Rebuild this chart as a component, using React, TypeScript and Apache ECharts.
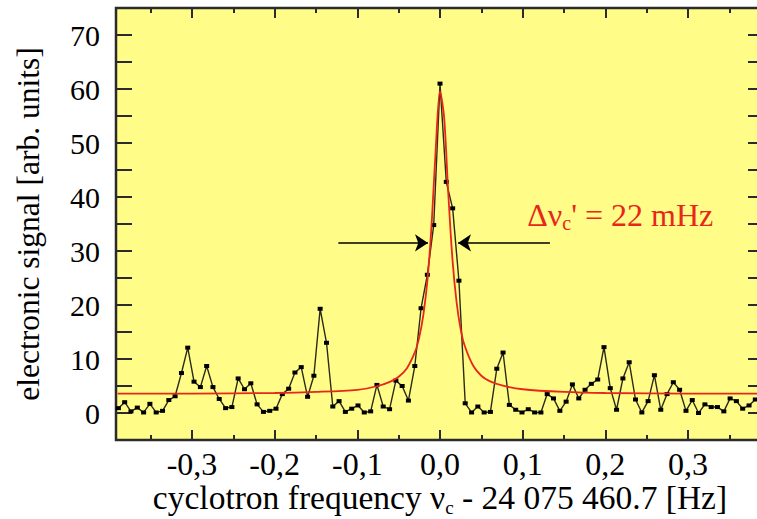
import React, { useEffect, useRef } from "react";
import * as echarts from "echarts";

// frequency offsets [Hz] of the measured points
const freq = [
  -0.3891, -0.3815, -0.3739, -0.3662, -0.3586, -0.351, -0.3434, -0.3357, -0.3281, -0.3205,
  -0.3128, -0.3052, -0.2976, -0.2899, -0.2823, -0.2747, -0.2671, -0.2594, -0.2518, -0.2442,
  -0.2365, -0.2289, -0.2213, -0.2136, -0.206, -0.1984, -0.1908, -0.1831, -0.1755, -0.1679,
  -0.1602, -0.1526, -0.145, -0.1373, -0.1297, -0.1221, -0.1145, -0.1068, -0.0992, -0.0916,
  -0.0839, -0.0763, -0.0687, -0.061, -0.0534, -0.0458, -0.0382, -0.0305, -0.0229, -0.0153,
  -0.0076, 0.0, 0.0076, 0.0153, 0.0229, 0.0305, 0.0382, 0.0458, 0.0534, 0.061,
  0.0687, 0.0763, 0.0839, 0.0916, 0.0992, 0.1068, 0.1145, 0.1221, 0.1297, 0.1373,
  0.145, 0.1526, 0.1602, 0.1679, 0.1755, 0.1831, 0.1908, 0.1984, 0.206, 0.2136,
  0.2213, 0.2289, 0.2365, 0.2442, 0.2518, 0.2594, 0.2671, 0.2747, 0.2823, 0.2899,
  0.2976, 0.3052, 0.3128, 0.3205, 0.3281, 0.3357, 0.3434, 0.351, 0.3586, 0.3662,
  0.3739, 0.3815,
];

// measured electronic signal [arb. units]
const signal = [
  0.9, 2.0, 0.3, 1.0, 0.1, 1.7, 0.1, 0.4, 2.4, 3.1,
  7.4, 12.1, 5.8, 4.8, 8.7, 4.8, 2.6, 0.9, 1.1, 6.4,
  4.4, 5.5, 1.6, 0.2, 0.4, 0.8, 3.5, 4.5, 7.5, 8.5,
  3.0, 6.9, 19.3, 13.0, 1.2, 2.2, 0.2, 0.8, 1.4, 0.1,
  0.3, 5.2, 1.2, 0.7, 6.0, 5.0, 2.3, 8.7, 19.4, 25.6,
  34.8, 61.0, 42.8, 37.9, 24.5, 1.8, 0.1, 1.2, 0.1, 0.2,
  8.2, 11.2, 1.5, 0.6, 0.1, 0.7, 0.1, 0.1, 3.5, 2.7,
  0.4, 2.1, 5.3, 2.7, 4.3, 5.4, 6.2, 12.2, 4.6, 0.6,
  6.4, 9.4, 2.5, 0.1, 2.2, 7.0, 0.6, 3.5, 5.7, 4.3,
  0.4, 2.4, 0.0, 1.6, 1.1, 1.1, 0.3, 2.7, 2.2, 0.8,
  1.4, 2.5,
];

// fitted curve
const fitFreq = [
  -0.39, -0.3, -0.2, -0.15, -0.1, -0.075, -0.06, -0.05, -0.04, -0.03,
  -0.025, -0.02, -0.015, -0.01, -0.005, 0.0, 0.005, 0.01, 0.015, 0.02,
  0.025, 0.03, 0.04, 0.05, 0.06, 0.075, 0.1, 0.15, 0.2, 0.3, 0.39,
];
const fitSignal = [
  3.6, 3.6, 3.7, 3.9, 4.3, 5.0, 5.8, 6.7, 8.3, 11.4,
  14.1, 18.3, 24.9, 35.3, 49.4, 59.6, 54.7, 40.7, 28.6, 20.6,
  15.5, 12.4, 8.8, 6.9, 5.9, 5.1, 4.4, 3.9, 3.7, 3.6, 3.6,
];

const xMajorTicks = [-0.3, -0.2, -0.1, 0.0, 0.1, 0.2, 0.3];
const xMinorTicks = [-0.35, -0.25, -0.15, -0.05, 0.05, 0.15, 0.25, 0.35];
const yLabelValues = [0, 10, 20, 30, 40, 50, 60, 70];
const yTickValues = [0, 5, 10, 15, 20, 25, 30, 35, 40, 45, 50, 55, 60, 65, 70];

const widthLabel = "Δν";
const widthValue = "' = 22 mHz";
const leftArrow = [[-0.123, 31.5], [-0.0145, 31.5]];
const rightArrow = [[0.133, 31.5], [0.0218, 31.5]];
const annotationAt = [0.105, 36.7];

const SERIF = "'Liberation Serif', 'DejaVu Serif', serif";
const FRAME = "#2b2b2b";
const RED = "#e8261a";

export default function App() {
  const ref = useRef<HTMLDivElement>(null);

  useEffect(() => {
    if (!ref.current) return;
    const chart = echarts.init(ref.current, null, { renderer: "svg" });

    const xBase = (position: string, ticks: number[], len: number) => ({
      type: "value",
      gridIndex: 0,
      position,
      min: -0.392,
      max: 0.392,
      axisLine: { show: false, onZero: false },
      splitLine: { show: false },
      axisLabel: { show: false },
      axisTick: {
        show: true,
        inside: true,
        length: len,
        customValues: ticks,
        lineStyle: { color: FRAME, width: 2 },
      },
    });

    const yBase = (position: string) => ({
      type: "value",
      position,
      min: -5,
      max: 75,
      interval: 5,
      axisLine: { show: false, onZero: false },
      splitLine: { show: false },
      axisLabel: { show: false },
      axisTick: {
        show: true,
        inside: true,
        length: 16,
        customValues: yTickValues,
        lineStyle: { color: FRAME, width: 2 },
      },
    });

    const xMain: any = xBase("bottom", xMajorTicks, 10);
    xMain.axisLabel = {
      show: true,
      customValues: xMajorTicks,
      margin: 8,
      fontFamily: SERIF,
      fontSize: 32,
      lineHeight: 32,
      color: "#000",
      formatter: (v: number) => v.toFixed(1).replace(".", ","),
    };
    xMain.name = "{a|cyclotron frequency ν}{b|c}{a| - 24 075 460.7 [Hz]}";
    xMain.nameLocation = "middle";
    xMain.nameGap = 37;
    xMain.nameMoveOverlap = false;
    xMain.nameTextStyle = {
      verticalAlign: "top",
      rich: {
        a: { fontFamily: SERIF, fontSize: 33.5, color: "#000", lineHeight: 40 },
        b: { fontFamily: SERIF, fontSize: 19, color: "#000", lineHeight: 18, verticalAlign: "bottom" },
      },
    };

    const yMain: any = yBase("left");
    yMain.axisLabel = {
      show: true,
      customValues: yLabelValues,
      margin: 16,
      fontFamily: SERIF,
      fontSize: 30,
      color: "#000",
    };
    yMain.name = "electronic signal [arb. units]";
    yMain.nameLocation = "middle";
    yMain.nameGap = 72;
    yMain.nameRotate = 90;
    yMain.nameMoveOverlap = false;
    yMain.nameTextStyle = { fontFamily: SERIF, fontSize: 31.5, color: "#000" };

    const option: any = {
      animation: false,
      backgroundColor: "#ffffff",
      grid: {
        left: 116,
        top: 8,
        right: -7,
        bottom: 79,
        containLabel: false,
        outerBoundsMode: "none",
        show: true,
        backgroundColor: "#fffc88",
        borderColor: FRAME,
        borderWidth: 2.5,
      },
      xAxis: [
        xMain,
        xBase("bottom", xMinorTicks, 5),
        xBase("top", xMajorTicks, 10),
        xBase("top", xMinorTicks, 5),
      ],
      yAxis: [yMain, yBase("right")],
      series: [
        {
          type: "line",
          xAxisIndex: 0,
          yAxisIndex: 0,
          data: freq.map((f, i) => [f, signal[i]]),
          symbol: "rect",
          symbolSize: [5, 4],
          showSymbol: true,
          itemStyle: { color: "#000" },
          lineStyle: { color: "#2a2a14", width: 1.4 },
          silent: true,
          z: 3,
        },
        {
          type: "line",
          xAxisIndex: 0,
          yAxisIndex: 0,
          data: fitFreq.map((f, i) => [f, fitSignal[i]]),
          smooth: 0.3,
          showSymbol: false,
          symbol: "none",
          lineStyle: { color: RED, width: 1.8 },
          silent: true,
          z: 4,
          markLine: {
            silent: true,
            symbol: ["none", "arrow"],
            symbolSize: 13,
            label: { show: false },
            lineStyle: { type: "solid", color: "#000", width: 1.5 },
            data: [
              [{ coord: leftArrow[0] }, { coord: leftArrow[1] }],
              [{ coord: rightArrow[0] }, { coord: rightArrow[1] }],
            ],
          },
          markPoint: {
            silent: true,
            symbol: "circle",
            symbolSize: 1,
            itemStyle: { color: "rgba(0,0,0,0)" },
            data: [
              {
                coord: annotationAt,
                label: {
                  show: true,
                  position: "right",
                  distance: 0,
                  formatter: `{a|${widthLabel}}{b|c}{a|${widthValue}}`,
                  rich: {
                    a: { fontFamily: SERIF, fontSize: 32, color: RED, lineHeight: 36 },
                    b: { fontFamily: SERIF, fontSize: 20, color: RED, lineHeight: 18, verticalAlign: "bottom" },
                  },
                },
              },
            ],
          },
        },
      ],
    };

    chart.setOption(option);
    return () => chart.dispose();
  }, []);

  return (
    <div
      style={{ position: "fixed", left: 0, top: 0, width: 757, height: 519, overflow: "hidden", background: "#fff" }}
    >
      <div ref={ref} style={{ width: 757, height: 519 }} />
    </div>
  );
}
